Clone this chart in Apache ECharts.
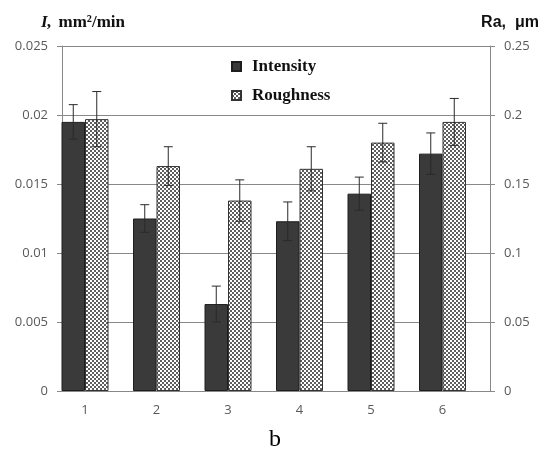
<!DOCTYPE html>
<html>
<head>
<meta charset="utf-8">
<script src="https://cdn.jsdelivr.net/npm/echarts@6/dist/echarts.min.js"></script>
<style>html,body{margin:0;padding:0;background:#fff}#c{width:550px;height:451px}</style>
</head>
<body>
<div id="c"></div>
<script>
// ---- data ----
const categories = [1, 2, 3, 4, 5, 6];
const intensity = [0.0195, 0.0125, 0.0063, 0.0123, 0.0143, 0.0172];
const intensityErr = [0.00125, 0.0010, 0.0013, 0.0014, 0.0012, 0.0015];
const roughness = [0.197, 0.163, 0.138, 0.161, 0.180, 0.195];
const roughnessErr = [0.020, 0.014, 0.015, 0.016, 0.014, 0.017];
const leftTicks = ['0', '0.005', '0.01', '0.015', '0.02', '0.025'];
const rightTicks = ['0', '0.05', '0.1', '0.15', '0.2', '0.25'];

// ---- pattern ----
const pc = document.createElement('canvas');
pc.width = 4; pc.height = 4;
const g = pc.getContext('2d');
g.fillStyle = '#ffffff'; g.fillRect(0, 0, 4, 4);
g.fillStyle = '#5e5e5e';
g.fillRect(0, 0, 2, 2); g.fillRect(2, 2, 2, 2);

const BW = 23.5;
const chart = echarts.init(document.getElementById('c'), null, {renderer: 'canvas'});
const tickFont = {fontFamily: 'Open Sans', fontSize: 13, color: '#595959'};
const lineCol = '#888888';

function errRender(sign) {
  return function (params, api) {
    const x = api.value(0), y = api.value(1), e = api.value(2);
    const c = api.coord([x, y]);
    const t = api.coord([x, y + e]);
    const b = api.coord([x, y - e]);
    const cx = c[0] + sign * BW / 2;
    const st = {stroke: '#2a2a2a', lineWidth: 1};
    return {type: 'group', children: [
      {type: 'line', shape: {x1: cx, y1: t[1], x2: cx, y2: b[1]}, style: st},
      {type: 'line', shape: {x1: cx - 4.5, y1: t[1], x2: cx + 4.5, y2: t[1]}, style: st},
      {type: 'line', shape: {x1: cx - 4.5, y1: b[1], x2: cx + 4.5, y2: b[1]}, style: st}
    ]};
  };
}

const xMin = 1 - 23 / 71.5;
const xMax = xMin + 428 / 71.5;

chart.setOption({
  animation: false,
  backgroundColor: '#ffffff',
  title: [
    {text: 'b', left: 'center', top: 428, padding: 0,
     textStyle: {fontFamily: 'Liberation Serif', fontSize: 24, fontWeight: 'normal', color: '#000'}}
  ],
  legend: {
    data: ['Intensity', 'Roughness'],
    orient: 'vertical', left: 231, top: 58, padding: 0,
    itemWidth: 9, itemHeight: 9, itemGap: 12, icon: 'rect',
    textStyle: {fontFamily: 'Liberation Serif', fontSize: 17, fontWeight: 'bold', color: '#111',
      lineHeight: 17, padding: [0, 0, 0, 6]}
  },
  grid: {left: 62, right: 60, top: 46, bottom: 60},
  xAxis: {
    type: 'value', min: xMin, max: xMax,
    axisLine: {show: true, lineStyle: {color: lineCol}},
    axisTick: {show: false},
    splitLine: {show: false},
    axisLabel: Object.assign({customValues: categories, margin: 13,
      formatter: v => String(Math.round(v))}, tickFont)
  },
  yAxis: [
    {type: 'value', min: 0, max: 0.025, interval: 0.005, position: 'left',
     name: '{i|I,}  {n|mm²/min}', nameLocation: 'end', nameGap: 23,
     nameTextStyle: {align: 'center', verticalAlign: 'middle', padding: [0, 0, 0, 42],
       rich: {i: {fontFamily: 'Liberation Serif', fontStyle: 'italic', fontWeight: 'bold', fontSize: 17, color: '#111'},
              n: {fontFamily: 'Liberation Serif', fontWeight: 'bold', fontSize: 17, color: '#111'}}},
     axisLine: {show: true, lineStyle: {color: lineCol}},
     axisTick: {show: true, length: 5, lineStyle: {color: lineCol}},
     splitLine: {show: true, lineStyle: {color: lineCol, width: 1}},
     axisLabel: Object.assign({margin: 14, formatter: (v, i) => leftTicks[i]}, tickFont)},
    {type: 'value', min: 0, max: 0.25, interval: 0.05, position: 'right',
     name: 'Ra,  μm', nameLocation: 'end', nameGap: 23,
     nameTextStyle: {align: 'center', verticalAlign: 'middle', padding: [0, 0, 0, 40],
       fontFamily: 'Liberation Sans', fontWeight: 'bold', fontSize: 16, color: '#111'},
     axisLine: {show: true, lineStyle: {color: lineCol}},
     axisTick: {show: true, length: 5, lineStyle: {color: lineCol}},
     splitLine: {show: false},
     axisLabel: Object.assign({margin: 14, formatter: (v, i) => rightTicks[i]}, tickFont)}
  ],
  series: [
    {name: 'Intensity', type: 'bar', xAxisIndex: 0, yAxisIndex: 0,
     barWidth: BW, barGap: '0%',
     itemStyle: {color: '#3a3a3a', borderColor: '#1e1e1e', borderWidth: 1},
     data: categories.map((c, i) => [c, intensity[i]])},
    {name: 'Roughness', type: 'bar', xAxisIndex: 0, yAxisIndex: 1,
     barWidth: BW, barGap: '0%',
     itemStyle: {color: {image: pc, repeat: 'repeat'}, borderColor: '#333', borderWidth: 1},
     data: categories.map((c, i) => [c, roughness[i]])},
    {name: 'errI', type: 'custom', xAxisIndex: 0, yAxisIndex: 0, z: 5,
     renderItem: errRender(-1), encode: {x: 0, y: 1},
     data: categories.map((c, i) => [c, intensity[i], intensityErr[i]])},
    {name: 'errR', type: 'custom', xAxisIndex: 0, yAxisIndex: 1, z: 5,
     renderItem: errRender(1), encode: {x: 0, y: 1},
     data: categories.map((c, i) => [c, roughness[i], roughnessErr[i]])}
  ]
});
</script>
</body>
</html>
